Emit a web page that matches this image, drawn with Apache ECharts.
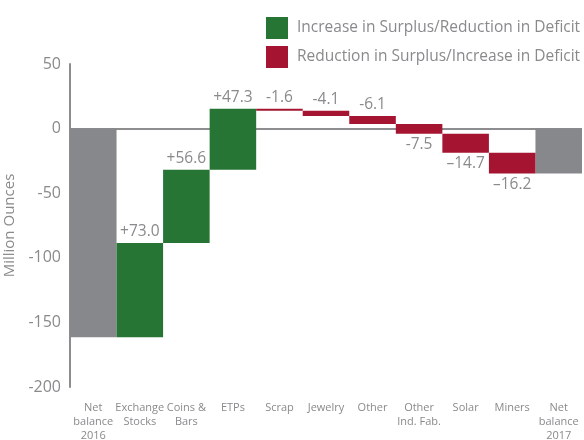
<!DOCTYPE html>
<html><head><meta charset="utf-8">
<script src="https://cdn.jsdelivr.net/npm/echarts@6/dist/echarts.min.js"></script>
<style>html,body{margin:0;padding:0;background:#fff}#c{width:584px;height:440px}</style>
</head><body><div id="c"></div>
<script>
var categories = ['Net\nbalance\n2016','Exchange\nStocks','Coins &\nBars','ETPs','Scrap','Jewelry','Other','Other\nInd. Fab.','Solar','Miners','Net\nbalance\n2017'];
var netBalance2016 = -161.5;
var changes = [73.0, 56.6, 47.3, -1.6, -4.1, -6.1, -7.5, -14.7, -16.2];
var netBalance2017 = -34.8;
var changeLabels = ['+73.0','+56.6','+47.3','-1.6','-4.1','-6.1','-7.5','\u201314.7','\u201316.2'];
var yTicks = [-200, -150, -100, -50, 0, 50];

var gray = '#87888c', green = '#267535', red = '#a51431', txt = '#8a8a8d';
var base = [0], totals = [netBalance2016], inc = [0], dec = [0];
var cum = netBalance2016;
changes.forEach(function(c, i){
  totals.push(0);
  if (c >= 0) { base.push(cum); inc.push({value:c, label:{show:true, formatter: changeLabels[i], position:'top'}}); dec.push(0); }
  else { base.push(cum + c); dec.push({value:-c, label:{show:true, formatter: changeLabels[i], position: i >= 6 ? 'bottom' : 'top'}}); inc.push(0); }
  cum += c;
});
base.push(0); totals.push(netBalance2017); inc.push(0); dec.push(0);

var labelStyle = {show:false, color: txt, fontSize: 15.5, distance: 3, fontFamily: 'Open Sans'};
var splitColors = yTicks.map(function(t){ return t === 0 ? '#8d8d90' : 'rgba(0,0,0,0)'; });
var chart = echarts.init(document.getElementById('c'));
chart.setOption({
  animation:false,
  textStyle:{fontFamily:'Open Sans'},
  legend:{orient:'vertical', left:261, top:12, itemWidth:22, itemHeight:22, itemGap:7,
    icon:'rect', textStyle:{color:txt, fontSize:15.5, padding:[0,0,0,4]},
    data:['Increase in Surplus/Reduction in Deficit','Reduction in Surplus/Increase in Deficit']},
  grid:{left:70, right:2, top:64, bottom:53, outerBoundsMode:'none', containLabel:false},
  xAxis:{type:'category', data:categories, axisLine:{show:false}, axisTick:{show:false},
    axisLabel:{color:txt, fontSize:11, lineHeight:14, margin:14, interval:0}},
  yAxis:{type:'value', min:yTicks[0], max:yTicks[yTicks.length-1], interval:50,
    name:'Million Ounces', nameLocation:'middle', nameGap:41, nameTextStyle:{color:txt, fontSize:15},
    axisLine:{show:true, lineStyle:{color:'#8d8d90', width:2}}, axisTick:{show:false},
    splitLine:{show:true, lineStyle:{color:splitColors, width:2}},
    axisLabel:{color:txt, fontSize:16, margin:9}},
  series:[
    {name:'base', type:'bar', stack:'w', stackStrategy:'all', barCategoryGap:0, silent:true,
     itemStyle:{color:'rgba(0,0,0,0)'}, data:base},
    {name:'Net balance', type:'bar', stack:'w', stackStrategy:'all', barCategoryGap:0, itemStyle:{color:gray}, data:totals},
    {name:'Increase in Surplus/Reduction in Deficit', type:'bar', stack:'w', stackStrategy:'all', barCategoryGap:0,
     itemStyle:{color:green}, label:labelStyle, data:inc},
    {name:'Reduction in Surplus/Increase in Deficit', type:'bar', stack:'w', stackStrategy:'all', barCategoryGap:0,
     itemStyle:{color:red}, label:labelStyle, data:dec}
  ]
});
</script></body></html>
